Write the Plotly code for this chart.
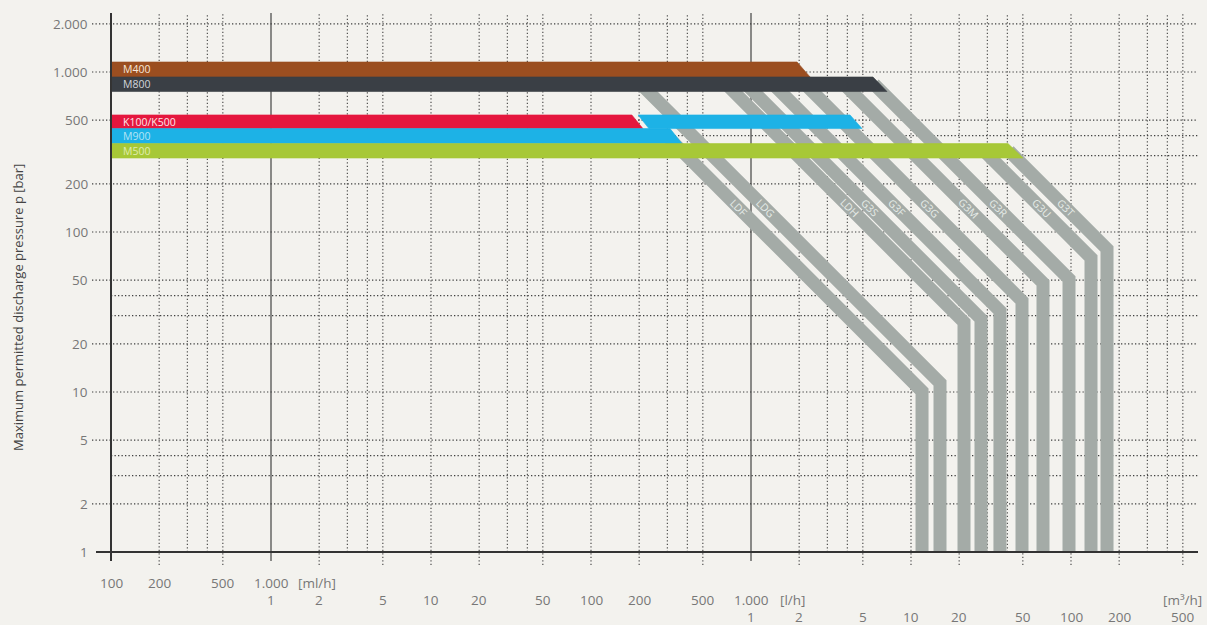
import numpy as np
import plotly.graph_objects as go

# ---------------- data ----------------
# Pump series bars: pressure band [bar] and right end flow [l/h] at top / bottom edge
bar_names = ["M400", "M800", "K100/K500", "M900", "M500"]
bar_p_top = [1155, 931, 539, 443, 357]
bar_p_bottom = [931, 755, 443, 357, 290]
bar_q_end_top = [1940, 5790, 180, 312, 40400]
bar_q_end_bottom = [2340, 7080, 211, 370, 50100]
bar_colors = ["#9B4E20", "#3A3F45", "#E5173E", "#1DB2E6", "#A7C837"]
bar_text_colors = ["#F6E7DA", "#D2D6DA", "#FCE6E9", "#B4E4F5", "#E0ECB0"]

# M900 extension on the K100/K500 pressure level
m900_upper_q_start = [197, 230]     # top, bottom edge [l/h]
m900_upper_q_end = [4160, 4940]     # top, bottom edge [l/h]
m900_upper_p = [539, 443]           # top, bottom [bar]

# Pump head bands: start point, kink (max flow / pressure), then vertical to 1 bar
head_names = ["LDF", "LDG", "LDH", "G3S", "G3F", "G3G", "G3M", "G3R", "G3U", "G3T"]
head_q_start = [298, 205, 698, 931, 1373, 2175, 3811, 5875, 28600, 40970]
head_p_start = [398, 841, 841, 841, 841, 841, 841, 841, 321, 321]
head_q_max = [11720, 15180, 21440, 27380, 35970, 49400, 66830, 97160, 133350, 167900]
head_p_kink = [10.1, 11.4, 27.3, 28.6, 32.1, 37.1, 48.0, 50.9, 68.9, 78.3]
head_label_p = 141

# Axis tick labels
y_tick_vals = [2000, 1000, 500, 200, 100, 50, 20, 10, 5, 2, 1]
y_tick_text = ["2.000", "1.000", "500", "200", "100", "50", "20", "10", "5", "2", "1"]

x_ml_vals = [0.1, 0.2, 0.5, 1]
x_ml_text = ["100", "200", "500", "1.000"]
x_l_vals = [1, 2, 5, 10, 20, 50, 100, 200, 500, 1000]
x_l_text = ["1", "2", "5", "10", "20", "50", "100", "200", "500", "1.000"]
x_m3_vals = [1000, 2000, 5000, 10000, 20000, 50000, 100000, 200000, 500000]
x_m3_text = ["1", "2", "5", "10", "20", "50", "100", "200", "500"]

# ---------------- layout constants ----------------
W, H = 1207, 625
ML, MR, MT, MB = 111, 9, 13, 73
PW, PH = W - ML - MR, H - MT - MB
XR = [-1, -1 + PW / 160.0]
YR = [0, PH / 160.0]
BG = "#F3F2EE"
GRAY = "#A4ABA7"
DOT = "#3F3F3F"
TICK_COL = "#777777"
FONT = "Open Sans"


def px_y(ypx):
    return (MT + PH - ypx) / PH


def px_x(xpx):
    return (xpx - ML) / PW


fig = go.Figure()

# pump head bands (under the bars)
for i, name in enumerate(head_names):
    fig.add_trace(go.Scatter(
        x=[head_q_start[i], head_q_max[i], head_q_max[i]],
        y=[head_p_start[i], head_p_kink[i], 0.9],
        mode="lines", line=dict(color=GRAY, width=13),
        hoverinfo="skip", showlegend=False))

# series bars
q0 = 10 ** XR[0]
for i, name in enumerate(bar_names):
    xs = [q0, bar_q_end_top[i], bar_q_end_bottom[i], q0, q0]
    ys = [bar_p_top[i], bar_p_top[i], bar_p_bottom[i], bar_p_bottom[i], bar_p_top[i]]
    fig.add_trace(go.Scatter(
        x=xs, y=ys, fill="toself", fillcolor=bar_colors[i], mode="lines",
        line=dict(width=0.6, color=bar_colors[i]),
        hoverinfo="skip", showlegend=False))

# M900 upper extension
fig.add_trace(go.Scatter(
    x=[m900_upper_q_start[0], m900_upper_q_end[0], m900_upper_q_end[1], m900_upper_q_start[1], m900_upper_q_start[0]],
    y=[m900_upper_p[0], m900_upper_p[0], m900_upper_p[1], m900_upper_p[1], m900_upper_p[0]],
    fill="toself", fillcolor=bar_colors[3], mode="lines",
    line=dict(width=0.6, color=bar_colors[3]), hoverinfo="skip", showlegend=False))

shapes = []
DASH = "1.3px,2.2px"
# vertical grid lines
labeled_x = set(x_ml_vals + x_l_vals + x_m3_vals)
for d in [0.1, 1, 10, 100, 1000, 10000, 100000]:
    for m in [1, 2, 3, 4, 5]:
        v = round(d * m, 6)
        if v <= 0.1 or np.log10(v) > XR[1]:
            continue
        solid = v in (1, 1000)
        ext = v in labeled_x
        shapes.append(dict(
            type="line", xref="x", yref="paper", x0=v, x1=v,
            y0=(-9 / PH if solid else (-13 / PH if ext else 0)), y1=1,
            line=dict(color="#505050" if solid else DOT, width=1.3 if solid else 1.1,
                      dash="solid" if solid else DASH),
            layer="below"))
# horizontal grid lines
labeled_y = set(y_tick_vals)
for d in [1, 10, 100, 1000]:
    for m in [1, 2, 3, 4, 5]:
        v = d * m
        if v <= 1 or np.log10(v) > YR[1]:
            continue
        shapes.append(dict(
            type="line", xref="paper", yref="y", x0=(-19 / PW if v in labeled_y else 0), x1=1,
            y0=v, y1=v, line=dict(color=DOT, width=1.1, dash=DASH), layer="below"))
# axis lines
shapes.append(dict(type="line", xref="paper", yref="paper", x0=0, x1=0, y0=-9 / PH, y1=1,
                   line=dict(color="#333", width=2), layer="above"))
shapes.append(dict(type="line", xref="paper", yref="paper", x0=-15 / PW, x1=1, y0=0, y1=0,
                   line=dict(color="#333", width=2), layer="above"))

ann = []
# bar labels
for i, name in enumerate(bar_names):
    pc = np.sqrt(bar_p_top[i] * bar_p_bottom[i])
    ann.append(dict(x=XR[0], y=np.log10(pc), xref="x", yref="y", text=name, showarrow=False,
                    xanchor="left", yanchor="middle", xshift=10,
                    font=dict(family=FONT, size=10.5, color=bar_text_colors[i])))
# head labels
for i, name in enumerate(head_names):
    ql = head_q_max[i] * head_p_kink[i] / head_label_p
    ann.append(dict(x=np.log10(ql), y=np.log10(head_label_p), xref="x", yref="y", text=name,
                    showarrow=False, textangle=45, xanchor="center", yanchor="middle",
                    font=dict(family=FONT, size=10.5, color="#E6EBE8")))
# y tick labels
for v, t in zip(y_tick_vals, y_tick_text):
    ann.append(dict(x=px_x(90), y=np.log10(v), xref="paper", yref="y", text=t, showarrow=False,
                    xanchor="right", yanchor="middle", font=dict(family=FONT, size=13.5, color=TICK_COL)))
# x tick label rows
for vals, texts, ypx in [(x_ml_vals, x_ml_text, 583), (x_l_vals, x_l_text, 600), (x_m3_vals, x_m3_text, 617)]:
    for v, t in zip(vals, texts):
        ann.append(dict(x=np.log10(v), y=px_y(ypx), xref="x", yref="paper", text=t, showarrow=False,
                        xanchor="center", yanchor="middle", font=dict(family=FONT, size=13.5, color=TICK_COL)))
# units
ann.append(dict(x=np.log10(1), y=px_y(583), xref="x", yref="paper", text="[ml/h]", showarrow=False,
                xanchor="left", yanchor="middle", xshift=25, font=dict(family=FONT, size=13.5, color=TICK_COL)))
ann.append(dict(x=np.log10(1000), y=px_y(600), xref="x", yref="paper", text="[l/h]", showarrow=False,
                xanchor="left", yanchor="middle", xshift=27, font=dict(family=FONT, size=13.5, color=TICK_COL)))
ann.append(dict(x=np.log10(500000), y=px_y(600), xref="x", yref="paper", text="[m³/h]", showarrow=False,
                xanchor="center", yanchor="middle", font=dict(family=FONT, size=13.5, color=TICK_COL)))
# y axis title
ann.append(dict(x=px_x(18), y=px_y(308), xref="paper", yref="paper",
                text="Maximum permitted discharge pressure p [bar]", showarrow=False, textangle=-90,
                xanchor="center", yanchor="middle", font=dict(family=FONT, size=13, color="#444")))

fig.update_layout(
    width=W, height=H, margin=dict(l=ML, r=MR, t=MT, b=MB),
    paper_bgcolor=BG, plot_bgcolor=BG,
    xaxis=dict(type="log", range=XR, showgrid=False, zeroline=False, showticklabels=False,
               ticks="", showline=False, fixedrange=True),
    yaxis=dict(type="log", range=YR, showgrid=False, zeroline=False, showticklabels=False,
               ticks="", showline=False, fixedrange=True),
    shapes=shapes, annotations=ann, showlegend=False, hovermode=False,
)

fig.write_html(
    "out.html",
    config={"displayModeBar": False},
    post_script="document.body.style.margin='0';document.body.style.overflow='hidden';"
                "document.body.style.background='" + BG + "';",
)
